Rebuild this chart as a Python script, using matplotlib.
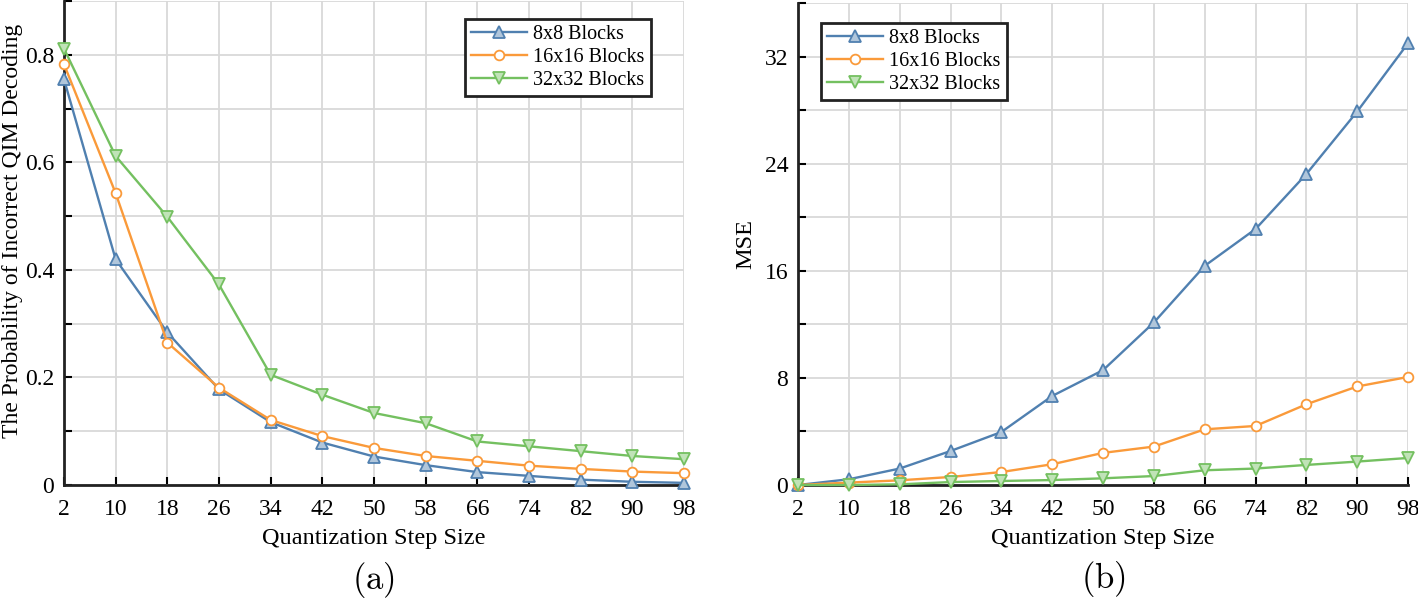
import matplotlib.pyplot as plt
import numpy as np
from matplotlib.colors import to_rgba

plt.rcParams['font.family'] = ['Liberation Serif', 'DejaVu Serif']
plt.rcParams['mathtext.fontset'] = 'cm'

# data
steps = [2, 10, 18, 26, 34, 42, 50, 58, 66, 74, 82, 90, 98]
labels = ['8x8 Blocks', '16x16 Blocks', '32x32 Blocks']

prob_8 = [0.755, 0.42, 0.284, 0.178, 0.117, 0.079, 0.053, 0.037, 0.024, 0.017, 0.010, 0.006, 0.004]
prob_16 = [0.783, 0.543, 0.265, 0.181, 0.121, 0.091, 0.069, 0.054, 0.045, 0.036, 0.030, 0.025, 0.022]
prob_32 = [0.812, 0.612, 0.499, 0.373, 0.205, 0.168, 0.134, 0.115, 0.081, 0.072, 0.063, 0.054, 0.048]

mse_8 = [0.0, 0.43, 1.23, 2.54, 3.96, 6.65, 8.58, 12.14, 16.37, 19.12, 23.23, 27.9, 33.0]
mse_16 = [0.0, 0.18, 0.35, 0.6, 0.97, 1.55, 2.4, 2.87, 4.16, 4.41, 6.03, 7.36, 8.07]
mse_32 = [0.0, 0.0, 0.05, 0.22, 0.3, 0.37, 0.5, 0.67, 1.1, 1.23, 1.5, 1.75, 2.02]

colors = ['#5080b0', '#fa9a3a', '#74c060']
markers = ['^', 'o', 'v']


def light(c, a):
    r, g, b, _ = to_rgba(c)
    return (1 - a + a * r, 1 - a + a * g, 1 - a + a * b)


def style_ax(ax, ymax, ystep, xlabel, ylabel, ylsize, ylx, yly, panel):
    ax.set_xlim(2, 98)
    ax.set_ylim(0, ymax)
    ax.set_xticks(steps)
    yt = np.arange(0, ymax + ystep / 2, ystep)
    ax.set_yticks(yt)
    ylabs = []
    for i, v in enumerate(yt):
        if i % 2 == 0 and v < ymax - 1e-9:
            ylabs.append('%g' % v)
        else:
            ylabs.append('')
    ax.set_yticklabels(ylabs)
    ax.grid(True, color='#d9d9d9', linewidth=1.3)
    ax.set_axisbelow(True)
    for s in ['top', 'right']:
        ax.spines[s].set_visible(False)
    for s in ['left', 'bottom']:
        ax.spines[s].set_linewidth(2)
        ax.spines[s].set_color('#222222')
    ax.tick_params(direction='in', length=6, width=1.5, labelsize=17)
    ax.tick_params(axis='y', pad=7)
    ax.tick_params(axis='x', pad=10)
    ax.set_xlabel(xlabel, fontsize=17.5, labelpad=6)
    ax.set_ylabel(ylabel, fontsize=ylsize, va='bottom')
    ax.yaxis.set_label_coords(ylx, yly)
    ax.text(0.5, -0.196, panel, transform=ax.transAxes, ha='center', va='center', fontsize=25)


fig = plt.figure(figsize=(14.18, 6.01), dpi=100)
ax1 = fig.add_axes([0.0451, 0.193, 0.4372, 0.805])
ax2 = fig.add_axes([0.5628, 0.193, 0.4302, 0.802])

for ax, series in [(ax1, [prob_8, prob_16, prob_32]), (ax2, [mse_8, mse_16, mse_32])]:
    for y, c, m, lab in zip(series, colors, markers, labels):
        face = 'white' if m == 'o' else light(c, 0.45)
        ax.plot(steps, y, color=c, marker=m, markersize=8 if m != 'o' else 7,
                markerfacecolor=face, markeredgecolor=c, markeredgewidth=1.3,
                linewidth=1.7, label=lab, clip_on=False, zorder=3)

style_ax(ax1, 0.9, 0.1, 'Quantization Step Size',
         'The Probability of Incorrect QIM Decoding', 17, -0.066, 0.525, r'$\mathrm{(a)}$')
style_ax(ax2, 36, 4, 'Quantization Step Size', 'MSE', 17.5, -0.069, 0.5, r'$\mathrm{(b)}$')

for ax, loc in [(ax1, 'upper right'), (ax2, 'upper left')]:
    leg = ax.legend(loc=loc, fontsize=14.5, fancybox=False, framealpha=1,
                    edgecolor='#222222', borderpad=0.3, labelspacing=0.2,
                    handlelength=2.8, handletextpad=0.3,
                    bbox_to_anchor=(0.963, 0.985) if loc == 'upper right' else (0.021, 0.98))
    leg.get_frame().set_linewidth(2)

fig.savefig('out.png', dpi=100)
